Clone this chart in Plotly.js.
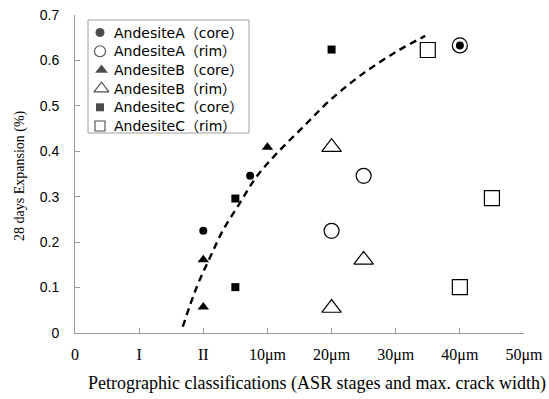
<!DOCTYPE html>
<html>
<head>
<meta charset="utf-8">
<script src="https://cdn.plot.ly/plotly-3.0.1.min.js"></script>
<style>html,body{margin:0;padding:0;background:#fff;}#chart{width:549px;height:399px;}</style>
</head>
<body>
<div id="chart"></div>
<script>
// Category positions on x axis: 0, I, II, 10μm, 20μm, 30μm, 40μm, 50μm -> 0..7
const tickVals = [0, 1, 2, 3, 4, 5, 6, 7];
const tickText = ['0', 'I', 'II', '10μm', '20μm', '30μm', '40μm', '50μm'];
const yTickVals = [0, 0.1, 0.2, 0.3, 0.4, 0.5, 0.6, 0.7];
const yTickText = ['0', '0.1', '0.2', '0.3', '0.4', '0.5', '0.6', '0.7'];

const seriesNames = ['AndesiteA（core）', 'AndesiteA（rim）', 'AndesiteB（core）', 'AndesiteB（rim）', 'AndesiteC（core）', 'AndesiteC（rim）'];
const seriesSymbols = ['circle', 'circle-open', 'triangle-up', 'triangle-up-open', 'square', 'square-open'];

const aCoreX = [2, 2.73, 6];
const aCoreY = [0.225, 0.346, 0.633];
const aRimX = [4, 4.5, 6];
const aRimY = [0.225, 0.346, 0.633];
const bCoreX = [2, 2, 3];
const bCoreY = [0.057, 0.161, 0.409];
const bRimX = [4, 4.5, 4];
const bRimY = [0.055, 0.161, 0.409];
const cCoreX = [2.5, 2.5, 4];
const cCoreY = [0.101, 0.296, 0.624];
const cRimX = [6, 6.5, 5.5];
const cRimY = [0.101, 0.297, 0.623];

// dashed trend curve
const curveX = [1.68, 1.90, 2.11, 2.31, 2.57, 2.83, 3.15, 3.56, 3.98, 4.50, 5.02, 5.46];
const curveY = [0.014, 0.102, 0.168, 0.227, 0.286, 0.344, 0.396, 0.454, 0.513, 0.572, 0.620, 0.654];

// ---- layout constants (pixel geometry of the plot area) ----
const L = 75, R = 524, T = 15, B = 333;
const px2x = p => (p - L) / (R - L);
const px2y = p => (B - p) / (B - T);

function pts(name, x, y, symbol, size) {
  const open = symbol.indexOf('open') >= 0;
  return {
    type: 'scatter', mode: 'markers', name: name, x: x, y: y, showlegend: false,
    marker: {symbol: symbol, size: size, color: '#000', line: {color: '#000', width: open ? 1.2 : 0}},
    cliponaxis: false
  };
}

const traces = [
  {type: 'scatter', mode: 'lines', x: curveX, y: curveY, showlegend: false,
   line: {color: '#000', width: 2.4, dash: '7px,5px', shape: 'spline'}, hoverinfo: 'skip'},
  pts(seriesNames[0], aCoreX, aCoreY, seriesSymbols[0], 8),
  pts(seriesNames[1], aRimX, aRimY, seriesSymbols[1], 15),
  pts(seriesNames[2], bCoreX, bCoreY, seriesSymbols[2], 10),
  pts(seriesNames[3], bRimX, bRimY, seriesSymbols[3], 17),
  pts(seriesNames[4], cCoreX, cCoreY, seriesSymbols[4], 8),
  pts(seriesNames[5], cRimX, cRimY, seriesSymbols[5], 15)
];

// ---- legend (drawn as a boxed key: symbols on an overlay axis + text labels) ----
const legRow0 = 32.5, legRowStep = 18.7, legSymX = 100, legTextX = 112;
const legSizes = [9, 11, 11, 13, 8, 10];
const legSymXs = seriesSymbols.map(s => legSymX + (s.indexOf('triangle') === 0 ? 1.5 : 0));
traces.push({
  type: 'scatter', mode: 'markers', xaxis: 'x2', yaxis: 'y2', showlegend: false, hoverinfo: 'skip',
  x: legSymXs.map(px2x),
  y: seriesSymbols.map((s, i) => px2y(legRow0 + i * legRowStep)),
  marker: {symbol: seriesSymbols, size: legSizes, color: '#000',
           line: {color: '#000', width: seriesSymbols.map(s => s.indexOf('open') >= 0 ? 1.1 : 0)}},
  cliponaxis: false
});

const legendAnnotations = seriesNames.map((n, i) => ({
  text: n, xref: 'paper', yref: 'paper', x: px2x(legTextX), y: px2y(legRow0 + i * legRowStep),
  xanchor: 'left', yanchor: 'middle', showarrow: false,
  font: {family: '"DejaVu Sans", "Noto Sans CJK JP", sans-serif', size: 14, color: '#000'}
}));

const layout = {
  width: 549, height: 399,
  margin: {l: L, r: 549 - R, t: T, b: 399 - B},
  paper_bgcolor: '#fff', plot_bgcolor: '#fff',
  showlegend: false,
  xaxis: {
    range: [0, 7], tickvals: tickVals, ticktext: tickText,
    showgrid: false, zeroline: false, showline: true, linecolor: '#9a9a9a', linewidth: 1,
    ticks: 'inside', ticklen: 5, tickcolor: '#9a9a9a',
    tickfont: {family: '"Liberation Serif", serif', size: 16, color: '#000'},
    ticklabelstandoff: 7
  },
  yaxis: {
    range: [0, 0.7], tickvals: yTickVals, ticktext: yTickText,
    showgrid: false, zeroline: false, showline: true, linecolor: '#9a9a9a', linewidth: 1,
    ticks: 'inside', ticklen: 5, tickcolor: '#9a9a9a',
    tickfont: {family: '"Liberation Sans", Arial, sans-serif', size: 14, color: '#000'},
    ticklabelstandoff: 12
  },
  xaxis2: {overlaying: 'x', range: [0, 1], visible: false, fixedrange: true},
  yaxis2: {overlaying: 'y', range: [0, 1], visible: false, fixedrange: true},
  shapes: [
    {type: 'rect', xref: 'paper', yref: 'paper', layer: 'below',
     x0: px2x(88), x1: px2x(249), y0: px2y(133), y1: px2y(20),
     line: {color: '#a0a0a0', width: 1}, fillcolor: '#fff'}
  ],
  annotations: [
    {text: 'Petrographic classifications (ASR stages and max. crack width)', xref: 'paper', yref: 'paper',
     x: px2x(317), y: px2y(383), xanchor: 'center', yanchor: 'middle', showarrow: false,
     font: {family: '"Liberation Serif", serif', size: 18, color: '#000'}},
    {text: '28 days Expansion (%)', xref: 'paper', yref: 'paper', textangle: -90,
     x: px2x(20), y: px2y(176), xanchor: 'center', yanchor: 'middle', showarrow: false,
     font: {family: '"Liberation Serif", serif', size: 14, color: '#000'}}
  ].concat(legendAnnotations)
};

Plotly.newPlot('chart', traces, layout, {staticPlot: true, displayModeBar: false});
</script>
</body>
</html>
